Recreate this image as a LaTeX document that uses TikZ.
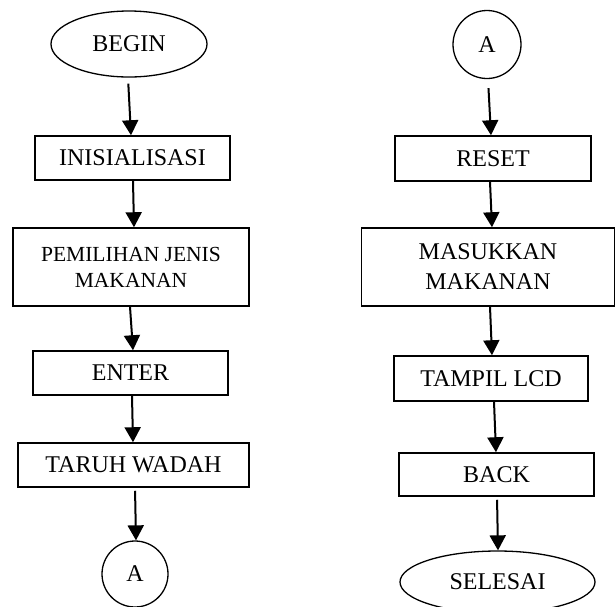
\documentclass[tikz,border=0pt]{standalone}
\usepackage{fontspec}
\setmainfont{Liberation Serif}
\usetikzlibrary{shapes.geometric,arrows.meta}
\begin{document}
\begin{tikzpicture}[x=1pt,y=-1pt,
  procbox/.style={draw,line width=1.5pt,rectangle,inner sep=0pt,align=center,font=\fontsize{24}{30}\selectfont},
  term/.style={draw,line width=1.3pt,ellipse,inner sep=0pt,font=\fontsize{24}{28}\selectfont},
  conn/.style={draw,line width=1.3pt,circle,inner sep=0pt,font=\fontsize{24}{28}\selectfont},
  flow/.style={line width=2pt,-{Triangle[width=16pt,length=15pt]}}]
\useasboundingbox (0,0) rectangle (616,606);
\node[term,minimum width=156pt,minimum height=66pt] (begin) at (129,44) {BEGIN};
\node[procbox,minimum width=195pt,minimum height=44pt] (inis) at (132.5,158) {INISIALISASI};
\node[procbox,minimum width=236pt,minimum height=78pt,font=\fontsize{21.5}{26}\selectfont] (pem) at (131,267) {PEMILIHAN JENIS\\MAKANAN};
\node[procbox,minimum width=195pt,minimum height=44pt] (enter) at (130.5,373) {ENTER};
\node[procbox,minimum width=231pt,minimum height=44pt] (taruh) at (133.5,465) {TARUH WADAH};
\node[conn,minimum size=66pt] (aL) at (135,574) {A};

\node[conn,minimum size=68pt] (aR) at (487,44.5) {A};
\node[procbox,minimum width=196pt,minimum height=45pt] (reset) at (493,158.5) {RESET};
\node[procbox,minimum width=253pt,minimum height=78pt] (masuk) at (488,267) {MASUKKAN\\MAKANAN};
\node[procbox,minimum width=194pt,minimum height=45pt] (tampil) at (491,378.5) {TAMPIL LCD};
\node[procbox,minimum width=195pt,minimum height=43pt] (back) at (496.5,474.5) {BACK};
\node[term,minimum width=195pt,minimum height=62pt] (selesai) at (497.5,582) {SELESAI};

\draw[flow,shorten <=6pt] ([xshift=-1pt]begin.south) -- ([xshift=-1.5pt]inis.north);
\draw[flow] ([xshift=0.5pt]inis.south) -- ([xshift=3pt]pem.north);
\draw[flow] ([xshift=-1pt]pem.south) -- ([xshift=2.5pt]enter.north);
\draw[flow] ([xshift=1.5pt]enter.south) -- ([xshift=-0.5pt]taruh.north);
\draw[flow,shorten <=3pt] ([xshift=1.5pt]taruh.south) -- ([xshift=1pt]aL.north);

\draw[flow,shorten <=9pt] ([xshift=1pt]aR.south) -- ([xshift=-2pt]reset.north);
\draw[flow] ([xshift=-3pt]reset.south) -- ([xshift=4pt]masuk.north);
\draw[flow] ([xshift=2pt]masuk.south) -- ([xshift=1pt]tampil.north);
\draw[flow] ([xshift=3pt]tampil.south) -- ([xshift=-0.5pt]back.north);
\draw[flow,shorten <=3pt] ([xshift=0.5pt]back.south) -- ([xshift=0.5pt]selesai.north);
\end{tikzpicture}
\end{document}
